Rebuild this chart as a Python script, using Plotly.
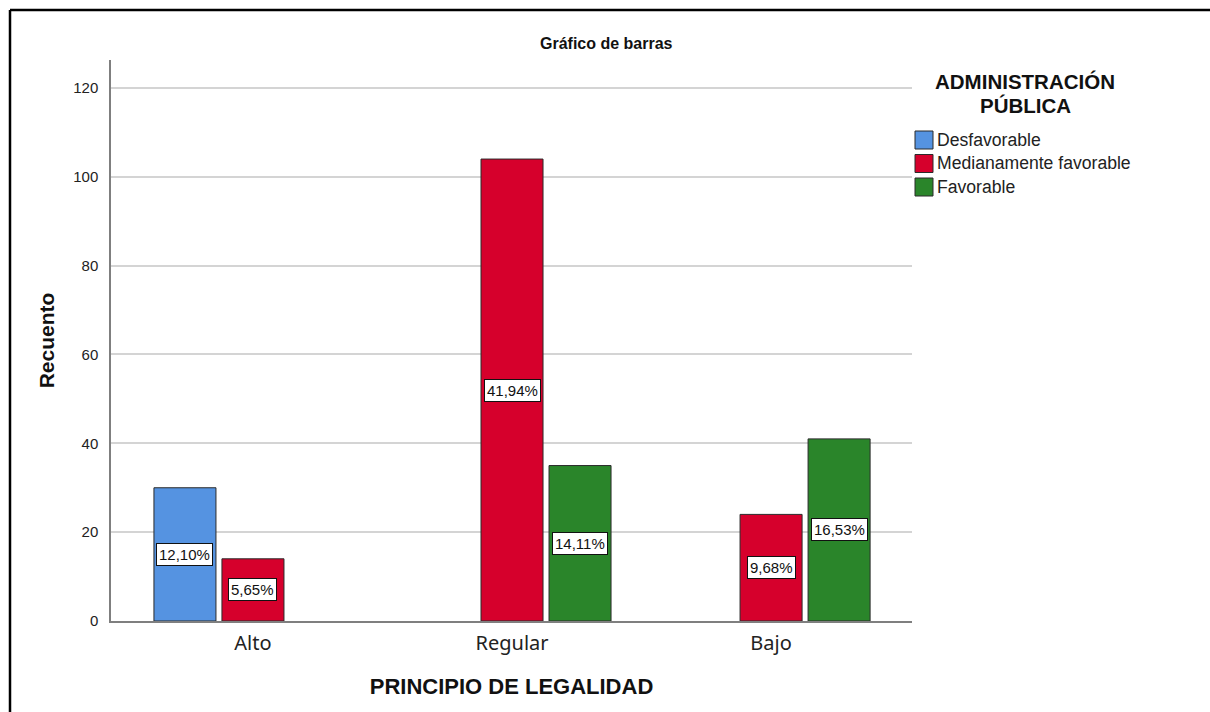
import plotly.graph_objects as go

# Recuento por nivel del principio de legalidad y valoración de la administración pública
categorias = ["Alto", "Regular", "Bajo"]
series = ["Desfavorable", "Medianamente favorable", "Favorable"]
desfavorable = [30, None, None]
medianamente = [14, 104, 24]
favorable = [None, 35, 41]
etiquetas = {
    "Desfavorable": ["12,10%", None, None],
    "Medianamente favorable": ["5,65%", "41,94%", "9,68%"],
    "Favorable": [None, "14,11%", "16,53%"],
}
colores = ["#5593E1", "#D6002C", "#2A852A"]
yticks = [0, 20, 40, 60, 80, 100, 120]

W, H = 1210, 712
L, R, T, B = 111, 298, 60, 91
pw, ph = W - L - R, H - T - B

SANS = "Liberation Sans, Arial"

valores = [desfavorable, medianamente, favorable]
fig = go.Figure()
for nombre, vals, col in zip(series, valores, colores):
    fig.add_trace(go.Bar(
        name=nombre, x=categorias, y=vals,
        marker=dict(color=col, line=dict(color="#2b2b2b", width=1)),
        hoverinfo="x+y+name", showlegend=False,
    ))

bargap = 0.2124
slot = (1 - bargap) / 3
for i, nombre in enumerate(series):
    vals = valores[i]
    for j, txt in enumerate(etiquetas[nombre]):
        if txt is None or vals[j] is None:
            continue
        fig.add_annotation(
            x=j + (i - 1) * slot, y=vals[j] / 2, xref="x", yref="y",
            text=txt, showarrow=False,
            font=dict(family=SANS, size=15, color="#111"),
            bgcolor="white", bordercolor="#111", borderwidth=1, borderpad=2,
        )


def px_x(p):
    return (p - L) / pw


def px_y(p):
    return (H - B - p) / ph


# Título
fig.add_annotation(
    x=px_x(606), y=px_y(44), xref="paper", yref="paper",
    text="<b>Gráfico de barras</b>", showarrow=False,
    font=dict(family=SANS, size=16, color="#111"),
    xanchor="center", yanchor="middle",
)

# Leyenda: título en dos líneas y muestras de color
for texto, yc in [("ADMINISTRACIÓN", 82), ("PÚBLICA", 105)]:
    fig.add_annotation(
        x=px_x(1025), y=px_y(yc), xref="paper", yref="paper",
        text=f"<b>{texto}</b>", showarrow=False,
        font=dict(family=SANS, size=20.5, color="#111"),
        xanchor="center", yanchor="middle",
    )
for k, (nombre, col) in enumerate(zip(series, colores)):
    yc = 140 + k * 23.5
    fig.add_shape(type="rect", xref="paper", yref="paper",
                  x0=px_x(915), x1=px_x(933), y0=px_y(yc - 9), y1=px_y(yc + 9),
                  fillcolor=col, line=dict(color="#2b2b2b", width=1))
    fig.add_annotation(
        x=px_x(935), y=px_y(yc), xref="paper", yref="paper",
        text=nombre, showarrow=False,
        font=dict(family=SANS, size=17.6, color="#222"),
        xanchor="left", yanchor="middle",
    )

# Marco exterior (borde superior e izquierdo)
fig.add_shape(type="line", xref="paper", yref="paper",
              x0=px_x(10), x1=px_x(1210), y0=px_y(10), y1=px_y(10),
              line=dict(color="black", width=2.5))
fig.add_shape(type="line", xref="paper", yref="paper",
              x0=px_x(10), x1=px_x(10), y0=px_y(10), y1=px_y(712),
              line=dict(color="black", width=2.5))

fig.update_layout(
    width=W, height=H,
    margin=dict(l=L, r=R, t=T, b=B, autoexpand=False),
    paper_bgcolor="white", plot_bgcolor="white",
    barmode="group", bargap=bargap, bargroupgap=0.088,
    font=dict(family=SANS, color="#222"),
    showlegend=False,
    xaxis=dict(
        type="category", range=[-0.548, 2.544],
        showline=True, linecolor="#7f7f7f", linewidth=1.5,
        showgrid=False, ticks="", ticklabelstandoff=3,
        tickfont=dict(family="Noto Sans, Arial", size=20, color="#222"),
        title=dict(text="<b>PRINCIPIO DE LEGALIDAD</b>", standoff=24,
                   font=dict(family=SANS, size=22, color="#111")),
    ),
    yaxis=dict(
        range=[0, 126.3], tickvals=yticks,
        showline=True, linecolor="#7f7f7f", linewidth=1.5,
        showgrid=True, gridcolor="#d4d4d4", gridwidth=2,
        ticks="", ticklabelstandoff=8,
        tickfont=dict(family=SANS, size=15, color="#222"),
        zeroline=False,
        title=dict(text="<b>Recuento</b>", standoff=13,
                   font=dict(family=SANS, size=21, color="#111")),
    ),
)

fig.write_html("out.html")
